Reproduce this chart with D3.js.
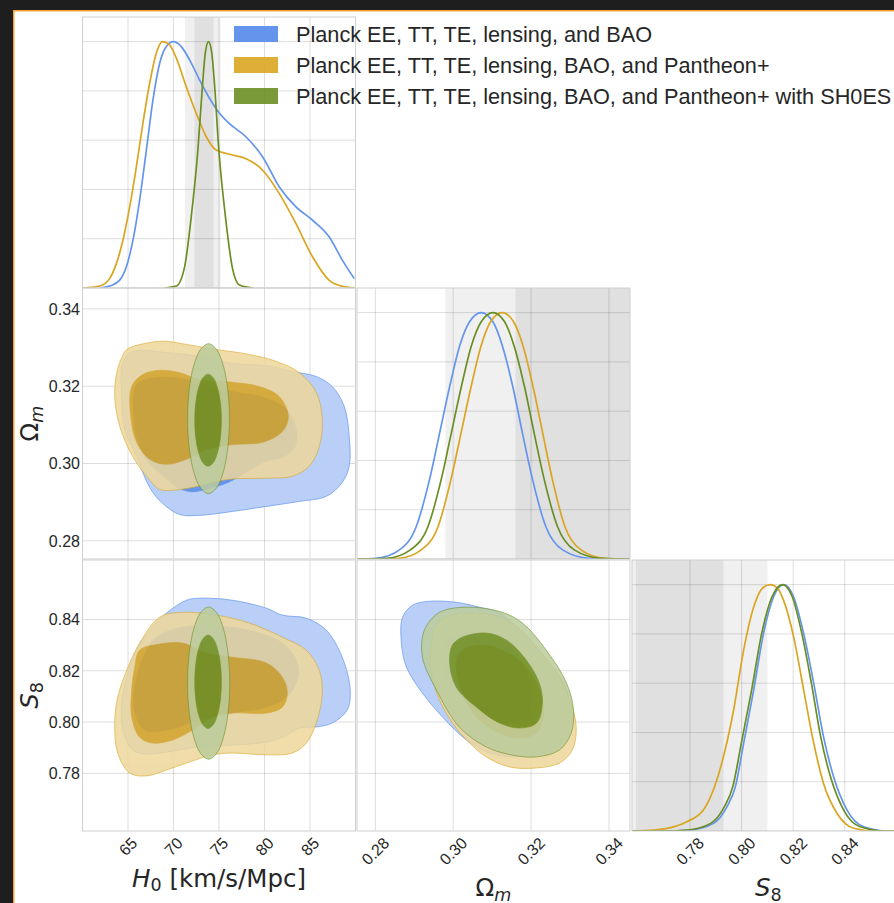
<!DOCTYPE html>
<html>
<head>
<meta charset="utf-8">
<script src="https://cdn.jsdelivr.net/npm/d3@7"></script>
<style>
  html, body { margin: 0; padding: 0; background: #1e1e1e; }
  svg { display: block; }
</style>
</head>
<body>
<svg id="chart" width="894" height="903"></svg>
<script>
// ---------- data ----------
const seriesNames = [
  "Planck EE, TT, TE, lensing, and BAO",
  "Planck EE, TT, TE, lensing, BAO, and Pantheon+",
  "Planck EE, TT, TE, lensing, BAO, and Pantheon+ with SH0ES"
];
const seriesColors = ["#6495ed", "#daa520", "#6b8e23"];

const h0Ticks = [65, 70, 75, 80, 85];
const omTicks = [0.28, 0.30, 0.32, 0.34];
const s8Ticks = [0.78, 0.80, 0.82, 0.84];
const densityTicks = [0, 0.2, 0.4, 0.6, 0.8, 1.0];

// external constraints: [2-sigma band, 1-sigma band]
const h0Bands = [[71.25, 75.15], [72.3, 74.4]];
const omBands = [[0.298, 0.370], [0.316, 0.352]];
const s8Bands = [[0.742, 0.810], [0.759, 0.793]];

// 1D marginalised posteriors (normalised to peak = 1)
const h0Blue = [[61.9,0],[63.0,0.008],[64.09,0.032],[64.82,0.086],[65.55,0.195],[66.28,0.357],[67.02,0.56],[67.74,0.763],[68.48,0.912],[69.21,0.98],[69.98,1.0],[70.86,0.98],[71.77,0.926],[72.86,0.845],[73.96,0.77],[75.05,0.709],[76.15,0.667],[77.98,0.613],[79.8,0.532],[81.63,0.41],[83.46,0.329],[85.29,0.275],[87.12,0.207],[88.57,0.112],[89.86,0.038]];
const h0Orange = [[60.03,0],[61.9,0.008],[62.99,0.039],[63.73,0.1],[64.45,0.195],[65.19,0.33],[65.92,0.492],[66.64,0.669],[67.38,0.831],[68.11,0.953],[68.77,1.0],[69.57,0.987],[70.31,0.933],[71.4,0.817],[72.5,0.709],[73.6,0.614],[74.69,0.56],[76.51,0.54],[77.98,0.525],[79.8,0.478],[81.63,0.383],[83.46,0.261],[85.29,0.126],[87.12,0.031],[88.57,0.007],[89.86,0.001]];
const h0Green = [[69.02,0],[70.31,0.008],[71.22,0.086],[71.95,0.289],[72.68,0.56],[73.2,0.83],[73.5,0.955],[73.85,1.0],[74.2,0.955],[74.5,0.83],[74.98,0.56],[75.71,0.289],[76.45,0.086],[77.25,0.012],[78.71,0]];

const omBlue = [[0.2753,0],[0.2803,0.003],[0.2862,0.037],[0.2905,0.131],[0.2939,0.321],[0.2965,0.51],[0.2991,0.70],[0.3016,0.862],[0.3042,0.963],[0.3072,1.0],[0.3102,0.963],[0.3127,0.862],[0.3153,0.70],[0.3178,0.51],[0.3204,0.321],[0.3238,0.131],[0.3281,0.037],[0.3349,0.003],[0.3454,0]];
const omOrange = [[0.2753,0],[0.2860,0.003],[0.2918,0.037],[0.2961,0.131],[0.2994,0.321],[0.3020,0.51],[0.3046,0.70],[0.3071,0.862],[0.3096,0.963],[0.3126,1.0],[0.3155,0.963],[0.3180,0.862],[0.3205,0.70],[0.3230,0.51],[0.3255,0.321],[0.3287,0.131],[0.3328,0.037],[0.3390,0.003],[0.3454,0]];
const omGreen = [[0.2753,0],[0.2830,0.003],[0.2890,0.037],[0.2935,0.131],[0.2969,0.321],[0.2995,0.51],[0.3021,0.70],[0.3046,0.862],[0.3072,0.963],[0.3102,1.0],[0.3132,0.963],[0.3157,0.862],[0.3183,0.70],[0.3208,0.51],[0.3234,0.321],[0.3268,0.131],[0.3311,0.037],[0.3379,0.003],[0.3454,0]];

const s8Blue = [[0.7575,0],[0.7700,0],[0.7800,0.004],[0.7891,0.031],[0.7943,0.098],[0.7976,0.18],[0.8008,0.356],[0.8047,0.572],[0.8085,0.801],[0.8124,0.95],[0.8163,1.0],[0.8202,0.95],[0.8241,0.801],[0.8280,0.599],[0.8318,0.382],[0.8357,0.22],[0.8409,0.085],[0.8474,0.017],[0.8565,0],[0.8632,0]];
const s8Orange = [[0.7575,0],[0.7659,0.004],[0.7740,0.018],[0.7788,0.038],[0.7852,0.085],[0.7904,0.207],[0.7969,0.49],[0.8008,0.734],[0.8047,0.909],[0.8080,0.985],[0.8111,1.0],[0.8140,0.985],[0.8163,0.936],[0.8202,0.788],[0.8241,0.572],[0.8280,0.356],[0.8318,0.193],[0.8370,0.072],[0.8435,0.011],[0.8513,0],[0.8632,0]];
const s8Green = [[0.7575,0],[0.7700,0],[0.7790,0.004],[0.7880,0.031],[0.7933,0.098],[0.7966,0.18],[0.7999,0.356],[0.8039,0.572],[0.8078,0.801],[0.8118,0.95],[0.8159,1.0],[0.8197,0.95],[0.8234,0.801],[0.8271,0.599],[0.8307,0.382],[0.8345,0.22],[0.8396,0.085],[0.8460,0.017],[0.8555,0],[0.8632,0]];

// 2D credible regions (68% and 95%) as closed outlines
const h0OmBlue95 = [[65.52,0.3290],[69.24,0.3287],[72.86,0.3277],[76.48,0.3259],[80.21,0.3253],[83.06,0.3238],[85.69,0.3225],[87.45,0.3199],[88.76,0.3148],[89.31,0.3070],[89.31,0.2993],[88.54,0.2951],[86.79,0.2915],[83.83,0.2902],[80.21,0.2889],[76.48,0.2876],[72.86,0.2866],[70.67,0.2868],[68.80,0.2897],[67.38,0.2938],[65.95,0.3018],[64.64,0.3088],[64.31,0.3173],[64.42,0.3261]];
const h0OmBlue68 = [[65.95,0.3204],[67.38,0.3220],[69.57,0.3223],[72.86,0.3210],[76.48,0.3186],[79.99,0.3171],[82.40,0.3140],[83.50,0.3088],[83.39,0.3044],[82.18,0.3018],[80.10,0.3005],[78.00,0.2978],[76.00,0.2951],[74.00,0.2936],[72.00,0.2927],[70.50,0.2937],[69.20,0.2962],[67.38,0.3000],[66.17,0.3049],[65.63,0.3127]];
const h0OmOrange95 = [[64.86,0.3295],[67.38,0.3313],[69.24,0.3316],[71.43,0.3308],[74.73,0.3295],[78.35,0.3282],[81.31,0.3264],[83.83,0.3235],[85.69,0.3184],[86.35,0.3114],[86.02,0.3044],[84.92,0.2993],[83.06,0.2967],[80.21,0.2962],[76.48,0.2960],[74.29,0.2951],[72.10,0.2938],[69.90,0.2931],[68.48,0.2933],[67.05,0.2967],[65.52,0.3018],[64.09,0.3096],[63.54,0.3173],[63.76,0.3235],[64.31,0.3274]];
const h0OmOrange68 = [[65.41,0.3199],[66.61,0.3230],[68.48,0.3241],[70.67,0.3235],[72.86,0.3217],[76.48,0.3210],[79.44,0.3199],[81.63,0.3173],[82.62,0.3122],[81.96,0.3083],[79.77,0.3055],[76.48,0.3049],[73.63,0.3036],[71.43,0.3011],[69.24,0.2998],[67.38,0.3011],[65.95,0.3055],[65.30,0.3122]];
const h0OmGreen95 = [[76.15,0.3116],[75.97,0.3190],[75.48,0.3253],[74.73,0.3295],[73.85,0.3310],[72.97,0.3295],[72.22,0.3253],[71.72,0.3190],[71.55,0.3116],[71.72,0.3042],[72.22,0.2979],[72.97,0.2937],[73.85,0.2922],[74.73,0.2937],[75.48,0.2979],[75.97,0.3042]];
const h0OmGreen68 = [[75.26,0.3112],[75.15,0.3158],[74.83,0.3196],[74.36,0.3222],[73.80,0.3231],[73.24,0.3222],[72.77,0.3196],[72.45,0.3158],[72.34,0.3112],[72.45,0.3066],[72.77,0.3028],[73.24,0.3002],[73.80,0.2993],[74.36,0.3002],[74.83,0.3028],[75.15,0.3066]];

const h0S8Blue95 = [[69.24,0.8425],[71.43,0.8475],[72.86,0.8483],[76.48,0.8475],[80.21,0.8444],[81.96,0.8417],[84.60,0.8405],[86.79,0.8358],[88.54,0.8253],[89.42,0.8125],[89.09,0.8047],[87.45,0.7996],[85.69,0.7981],[83.83,0.7977],[81.96,0.7941],[80.21,0.7922],[76.48,0.7910],[72.86,0.7903],[69.24,0.7883],[67.05,0.7875],[65.52,0.7891],[64.42,0.7969],[64.31,0.8074],[64.86,0.8175],[65.95,0.8280],[67.38,0.8358]];
const h0S8Blue68 = [[67.05,0.8280],[68.15,0.8331],[71.00,0.8370],[74.73,0.8374],[78.35,0.8358],[81.96,0.8308],[83.61,0.8230],[83.61,0.8164],[82.40,0.8097],[80.21,0.8058],[76.48,0.8035],[72.86,0.8008],[69.24,0.7969],[66.83,0.7969],[65.63,0.8058],[65.95,0.8175]];
const h0S8Orange95 = [[68.48,0.8409],[71.00,0.8428],[74.73,0.8417],[78.35,0.8386],[81.96,0.8331],[84.60,0.8280],[86.02,0.8202],[86.35,0.8113],[85.69,0.7996],[84.60,0.7918],[83.06,0.7879],[80.21,0.7872],[76.48,0.7879],[74.29,0.7872],[71.43,0.7840],[69.24,0.7813],[67.05,0.7790],[65.19,0.7801],[63.87,0.7879],[63.54,0.7996],[63.87,0.8097],[64.86,0.8202],[66.28,0.8308]];
const h0S8Orange68 = [[66.28,0.8280],[68.48,0.8304],[71.00,0.8308],[73.63,0.8269],[76.48,0.8253],[80.21,0.8230],[81.96,0.8175],[82.51,0.8113],[81.96,0.8058],[80.21,0.8035],[76.48,0.8035],[74.29,0.8019],[72.10,0.7969],[69.90,0.7930],[67.71,0.7918],[66.28,0.7941],[65.41,0.8019],[65.41,0.8125],[65.74,0.8214]];
const h0S8Green95 = [[76.18,0.8152],[76.00,0.8266],[75.50,0.8362],[74.75,0.8426],[73.86,0.8449],[72.97,0.8426],[72.22,0.8362],[71.72,0.8266],[71.54,0.8152],[71.72,0.8038],[72.22,0.7942],[72.97,0.7878],[73.86,0.7855],[74.75,0.7878],[75.50,0.7942],[76.00,0.8038]];
const h0S8Green68 = [[75.26,0.8157],[75.15,0.8227],[74.83,0.8286],[74.36,0.8325],[73.80,0.8339],[73.24,0.8325],[72.77,0.8286],[72.45,0.8227],[72.34,0.8157],[72.45,0.8087],[72.77,0.8028],[73.24,0.7989],[73.80,0.7975],[74.36,0.7989],[74.83,0.8028],[75.15,0.8087]];

const omS8Blue95 = [[0.2896,0.8456],[0.2939,0.8471],[0.3008,0.8467],[0.3067,0.8448],[0.3119,0.8425],[0.3162,0.8370],[0.3203,0.8308],[0.3255,0.8214],[0.3291,0.8125],[0.3301,0.8035],[0.3291,0.7941],[0.3247,0.7887],[0.3170,0.7864],[0.3093,0.7879],[0.3034,0.7930],[0.2973,0.8019],[0.2921,0.8113],[0.2880,0.8214],[0.2867,0.8308],[0.2870,0.8409]];
const omS8Blue68 = [[0.2998,0.8340],[0.3060,0.8355],[0.3115,0.8328],[0.3165,0.8252],[0.3196,0.8165],[0.3203,0.8088],[0.3188,0.8013],[0.3146,0.7994],[0.3096,0.8013],[0.3038,0.8074],[0.2986,0.8150],[0.2970,0.8242],[0.2976,0.8310]];
const omS8Orange95 = [[0.2998,0.8417],[0.3085,0.8421],[0.3152,0.8386],[0.3214,0.8292],[0.3273,0.8175],[0.3306,0.8058],[0.3316,0.7969],[0.3306,0.7891],[0.3273,0.7840],[0.3214,0.7821],[0.3144,0.7825],[0.3085,0.7864],[0.3042,0.7918],[0.2998,0.7996],[0.2965,0.8086],[0.2944,0.8191],[0.2944,0.8308],[0.2960,0.8386]];
const omS8Orange68 = [[0.3016,0.8269],[0.3067,0.8300],[0.3126,0.8280],[0.3178,0.8230],[0.3221,0.8125],[0.3232,0.8035],[0.3214,0.7957],[0.3170,0.7938],[0.3119,0.7957],[0.3060,0.8019],[0.3021,0.8125],[0.3008,0.8214]];
const omS8Green95 = [[0.3042,0.8448],[0.3126,0.8428],[0.3178,0.8386],[0.3239,0.8280],[0.3291,0.8152],[0.3309,0.8047],[0.3303,0.7957],[0.3273,0.7891],[0.3214,0.7864],[0.3152,0.7871],[0.3085,0.7903],[0.3016,0.7980],[0.2957,0.8125],[0.2921,0.8253],[0.2926,0.8358],[0.2965,0.8428]];
const omS8Green68 = [[0.3024,0.8331],[0.3085,0.8347],[0.3137,0.8319],[0.3188,0.8241],[0.3221,0.8152],[0.3229,0.8074],[0.3214,0.7996],[0.3170,0.7977],[0.3119,0.7996],[0.3060,0.8058],[0.3008,0.8136],[0.2991,0.8230],[0.2998,0.8300]];

// ---------- layout & style ----------
const tickFont = "'Liberation Sans', Arial, sans-serif";
const labelFont = "'DejaVu Sans', sans-serif";
const ink = "#262626";
const gridColor = "rgba(0,0,0,0.135)";
const frameColor = "#cfcfcf";
const tickSize = 16;

const svg = d3.select("#chart");
svg.append("rect").attr("width", 894).attr("height", 903).attr("fill", "#1e1e1e");
svg.append("rect")
  .attr("x", 13.75).attr("y", 10.75).attr("width", 1000).attr("height", 1000)
  .attr("fill", "#ffffff").attr("stroke", "#f4a136").attr("stroke-width", 1.5);

// scales
const xH0 = d3.scaleLinear().domain([60, 90]).range([82.5, 355.5]);
const xOm = d3.scaleLinear().domain([0.2753, 0.3454]).range([357, 630]);
const xS8 = d3.scaleLinear().domain([0.7575, 0.8632]).range([632, 904.5]);
const yOm = d3.scaleLinear().domain([0.2753, 0.3454]).range([559, 288]);
const yS8 = d3.scaleLinear().domain([0.7575, 0.8632]).range([831, 560]);
const yDenRow1 = d3.scaleLinear().domain([0, 1.1]).range([288, 17]);
const yDenRow2 = d3.scaleLinear().domain([0, 1.1]).range([559, 288]);
const yDenRow3 = d3.scaleLinear().domain([0, 1.1]).range([831, 560]);

let clipId = 0;
function makePanel(x, y, xTicks, yTicks) {
  const [x0, x1] = x.range();
  const [y0, y1] = y.range();
  const id = "clip" + (clipId++);
  svg.append("clipPath").attr("id", id)
    .append("rect").attr("x", x0).attr("y", y1).attr("width", x1 - x0).attr("height", y0 - y1);
  const g = svg.append("g");
  const body = g.append("g").attr("clip-path", `url(#${id})`);
  const bands = body.append("g");
  const grid = body.append("g");
  grid.selectAll("line.v").data(xTicks).join("line")
    .attr("x1", d => x(d)).attr("x2", d => x(d))
    .attr("y1", y0).attr("y2", y1)
    .attr("stroke", gridColor).attr("stroke-width", 1);
  grid.selectAll("line.h").data(yTicks).join("line")
    .attr("x1", x0).attr("x2", x1)
    .attr("y1", d => y(d)).attr("y2", d => y(d))
    .attr("stroke", gridColor).attr("stroke-width", 1);
  const marks = body.append("g");
  g.append("rect").attr("x", x0).attr("y", y1).attr("width", x1 - x0).attr("height", y0 - y1)
    .attr("fill", "none").attr("stroke", frameColor).attr("stroke-width", 1);
  return { bands, marks, x, y };
}

function drawBands(panel, bandList) {
  const [y0, y1] = panel.y.range();
  const fills = ["#f0f0f0", "#e0e0e0"];
  bandList.forEach((b, i) => {
    panel.bands.append("rect")
      .attr("x", panel.x(b[0])).attr("width", panel.x(b[1]) - panel.x(b[0]))
      .attr("y", y1).attr("height", y0 - y1)
      .attr("fill", fills[i]);
  });
}

function drawDensities(panel, curves) {
  const line = d3.line()
    .x(d => panel.x(d[0])).y(d => panel.y(d[1]))
    .curve(d3.curveMonotoneX);
  curves.forEach((c, i) => {
    panel.marks.append("path").attr("d", line(c))
      .attr("fill", "none").attr("stroke", seriesColors[i])
      .attr("stroke-width", 1.7).attr("stroke-linejoin", "round");
  });
}

function drawContours(panel, regions) {
  const shape = d3.line()
    .x(d => panel.x(d[0])).y(d => panel.y(d[1]))
    .curve(d3.curveCatmullRomClosed.alpha(0.5));
  regions.forEach((r, i) => {
    const col = seriesColors[i];
    const light = d3.interpolateRgb("#ffffff", col)(0.45);
    const g = panel.marks.append("g").attr("opacity", i === 0 ? 1 : 0.85);
    g.append("path").attr("d", shape(r[0]))
      .attr("fill", light).attr("stroke", col).attr("stroke-width", 0.7);
    g.append("path").attr("d", shape(r[1]))
      .attr("fill", col).attr("stroke", col).attr("stroke-width", 0.7);
  });
}

// ---------- panels ----------
const pH0 = makePanel(xH0, yDenRow1, h0Ticks, densityTicks);
drawBands(pH0, h0Bands);
drawDensities(pH0, [h0Blue, h0Orange, h0Green]);

const pH0Om = makePanel(xH0, yOm, h0Ticks, omTicks);
drawContours(pH0Om, [[h0OmBlue95, h0OmBlue68], [h0OmOrange95, h0OmOrange68], [h0OmGreen95, h0OmGreen68]]);

const pOm = makePanel(xOm, yDenRow2, omTicks, densityTicks);
drawBands(pOm, omBands);
drawDensities(pOm, [omBlue, omOrange, omGreen]);

const pH0S8 = makePanel(xH0, yS8, h0Ticks, s8Ticks);
drawContours(pH0S8, [[h0S8Blue95, h0S8Blue68], [h0S8Orange95, h0S8Orange68], [h0S8Green95, h0S8Green68]]);

const pOmS8 = makePanel(xOm, yS8, omTicks, s8Ticks);
drawContours(pOmS8, [[omS8Blue95, omS8Blue68], [omS8Orange95, omS8Orange68], [omS8Green95, omS8Green68]]);

const pS8 = makePanel(xS8, yDenRow3, s8Ticks, densityTicks);
drawBands(pS8, s8Bands);
drawDensities(pS8, [s8Blue, s8Orange, s8Green]);

// ---------- tick labels ----------
const fmt2 = d3.format(".2f");
function xTickLabels(scale, ticks, fmt) {
  const capH = tickSize * 0.716;
  ticks.forEach(t => {
    const txt = svg.append("text")
      .attr("font-family", tickFont).attr("font-size", tickSize)
      .attr("fill", ink).attr("text-anchor", "end").text(fmt(t));
    const w = txt.node().getComputedTextLength();
    const px = scale(t) + 0.354 * (w + capH);
    const py = 836 + 0.707 * capH;
    txt.attr("transform", `translate(${px},${py}) rotate(-45)`);
  });
}
xTickLabels(xH0, h0Ticks, d => String(d));
xTickLabels(xOm, omTicks, fmt2);
xTickLabels(xS8, s8Ticks, fmt2);

function yTickLabels(scale, ticks) {
  svg.append("g").selectAll("text").data(ticks).join("text")
    .attr("x", 80).attr("y", d => scale(d)).attr("dy", "0.36em")
    .attr("text-anchor", "end")
    .attr("font-family", tickFont).attr("font-size", tickSize).attr("fill", ink)
    .text(d => fmt2(d));
}
yTickLabels(yOm, omTicks);
yTickLabels(yS8, s8Ticks);

// ---------- axis labels ----------
function mathLabel(parts, transform) {
  const t = svg.append("text")
    .attr("transform", transform)
    .attr("text-anchor", "middle")
    .attr("font-family", labelFont).attr("font-size", 24.5).attr("fill", ink);
  parts.forEach(p => {
    const s = t.append("tspan").text(p.text);
    if (p.italic) s.attr("font-style", "italic");
    if (p.sub) s.attr("font-size", 17.5).attr("dy", 4.5);
    if (p.back) s.attr("dy", -4.5);
  });
  return t;
}
mathLabel([{ text: "H", italic: true }, { text: "0", sub: true }, { text: "\u00a0[km/s/Mpc]", back: true }],
  `translate(${(xH0.range()[0] + xH0.range()[1]) / 2},886.5)`);
mathLabel([{ text: "\u03a9" }, { text: "m", sub: true, italic: true }],
  `translate(${(xOm.range()[0] + xOm.range()[1]) / 2},896)`);
mathLabel([{ text: "S", italic: true }, { text: "8", sub: true }],
  `translate(${(xS8.range()[0] + xS8.range()[1]) / 2},896)`);
mathLabel([{ text: "\u03a9" }, { text: "m", sub: true, italic: true }],
  `translate(38,${(yOm.range()[0] + yOm.range()[1]) / 2}) rotate(-90)`);
mathLabel([{ text: "S", italic: true }, { text: "8", sub: true }],
  `translate(38,${(yS8.range()[0] + yS8.range()[1]) / 2}) rotate(-90)`);

// ---------- legend ----------
const legend = svg.append("g");
seriesNames.forEach((name, i) => {
  const cy = 34 + i * 31;
  legend.append("rect")
    .attr("x", 234).attr("y", cy - 8).attr("width", 44).attr("height", 16)
    .attr("fill", seriesColors[i]).attr("opacity", i === 0 ? 1 : 0.9);
  legend.append("text")
    .attr("x", 296).attr("y", cy).attr("dy", "0.36em")
    .attr("font-family", tickFont).attr("font-size", 21.7).attr("fill", ink)
    .text(name);
});
</script>
</body>
</html>
